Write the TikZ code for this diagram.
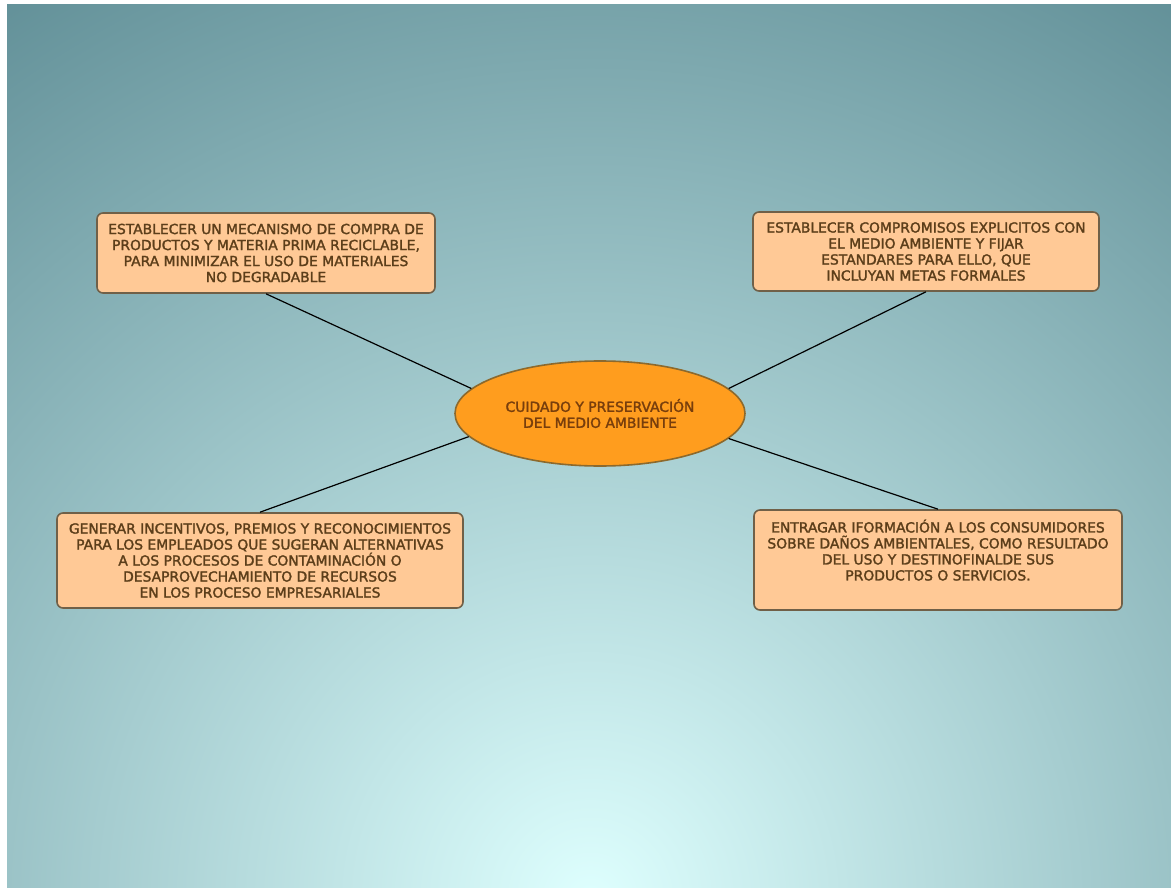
\documentclass[tikz,border=0pt]{standalone}
\usepackage{fontspec}
\setmainfont{DejaVu Sans}
\newfontfamily\mapfont{DejaVu Sans}[FakeBold=1.8]
\usetikzlibrary{shapes.geometric}
\definecolor{boxfill}{RGB}{255,201,150}
\definecolor{boxline}{RGB}{112,96,72}
\definecolor{ovalfill}{RGB}{255,157,30}
\definecolor{ovalline}{RGB}{140,105,45}
\definecolor{boxtext}{RGB}{92,62,26}
\definecolor{ovaltext}{RGB}{120,62,12}
\definecolor{bgin}{RGB}{222,255,254}
\definecolor{bgout}{RGB}{98,144,152}
\begin{document}
\begin{tikzpicture}[x=0.75pt, y=-0.75pt,
	idea/.style={draw=boxline, line width=1.2pt, fill=boxfill, rounded corners=4.5pt,
		align=center, text=boxtext, inner sep=0pt, font=\mapfont\fontsize{10.4}{12}\selectfont},
	core/.style={ellipse, draw=ovalline, line width=1.2pt, fill=ovalfill, align=center,
		text=ovaltext, inner sep=0pt, minimum width=217.5pt, minimum height=78.75pt,
		font=\mapfont\fontsize{10.4}{12}\selectfont},
	link/.style={draw=black, line width=0.9pt}]
	% background
	\useasboundingbox (0,0) rectangle (1171,888);
	\fill[white] (0,0) rectangle (1171,888);
	\begin{scope}
	\clip (7,5) rectangle (1171,888);
	\shade[inner color=bgin, outer color=bgout] (590,900) circle (1080);
	\end{scope}
	% centre
	\node[core] (C) at (600,413.5) {CUIDADO Y PRESERVACIÓN\\ DEL MEDIO AMBIENTE};
	% top
	\node[idea, minimum width=253.5pt, minimum height=60pt] (TL) at (266,253)
		{ESTABLECER UN MECANISMO DE COMPRA DE\\ PRODUCTOS Y MATERIA PRIMA RECICLABLE,\\
		PARA MINIMIZAR EL USO DE MATERIALES\\ NO DEGRADABLE};
	\node[idea, minimum width=259.5pt, minimum height=59.25pt] (TR) at (926,251.5)
		{ESTABLECER COMPROMISOS EXPLICITOS CON\\ EL MEDIO AMBIENTE Y FIJAR\\
		ESTANDARES PARA ELLO, QUE\\ INCLUYAN METAS FORMALES};
	% bottom
	\node[idea, minimum width=304.5pt, minimum height=71.25pt] (BL) at (260,560.5)
		{GENERAR INCENTIVOS, PREMIOS Y RECONOCIMIENTOS\\ PARA LOS EMPLEADOS QUE SUGERAN ALTERNATIVAS\\
		A LOS PROCESOS DE CONTAMINACIÓN O\\ DESAPROVECHAMIENTO DE RECURSOS\\ EN LOS PROCESO EMPRESARIALES};
	\node[idea, minimum width=276pt, minimum height=75pt] (BR) at (938,560)
		{ENTRAGAR IFORMACIÓN A LOS CONSUMIDORES\\ SOBRE DAÑOS AMBIENTALES, COMO RESULTADO\\
		DEL USO Y DESTINOFINALDE SUS\\ PRODUCTOS O SERVICIOS.\\[3pt]\mbox{}};
	% links
	\draw[link] (TL.south) -- (C.169);
	\draw[link] (TR.south) -- (C.11);
	\draw[link] (BL.north) -- (C.190);
	\draw[link] (BR.north) -- (C.349);
\end{tikzpicture}
\end{document}
